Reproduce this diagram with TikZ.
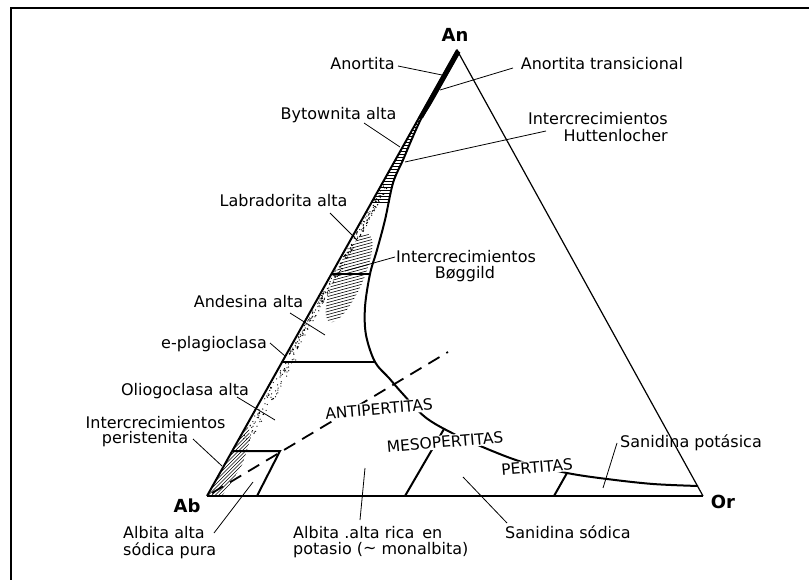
\documentclass[tikz,border=0pt]{standalone}
\usepackage{fontspec}
\setmainfont{DejaVu Sans}
\begin{document}
\begin{tikzpicture}[x=1pt,y=-1pt,
  lab/.style={font=\fontsize{16}{17}\selectfont, inner sep=0pt},
  vtx/.style={font=\fontsize{18}{20}\selectfont\bfseries, inner sep=0pt},
  caps/.style={font=\fontsize{15.5}{17}\selectfont, inner sep=1pt, fill=white, rotate=5},
  leader/.style={line width=0.8pt},
  heavy/.style={line width=2pt},
  hatch/.style={line width=0.6pt}]
\useasboundingbox (0,0) rectangle (809,580);
% frame
\draw[line width=2pt] (11,580) -- (11,8) -- (809,8);
% vertices
\coordinate (An) at (457,50);
\coordinate (Ab) at (207,496);
\coordinate (Or) at (703,496);
% stipple along plagioclase join
\pgfmathsetseed{7}
\foreach \i in {1,...,330}{
  \pgfmathsetmacro\yy{186+256*rnd}
  \pgfmathsetmacro\ww{\yy>355 ? 11 : 6}
  \pgfmathsetmacro\xx{457-(\yy-50)*0.5605+2+\ww*rnd}
  \fill (\xx,\yy) circle (0.65pt);
}
% bytownite ladder hatch
\begin{scope}
\clip (419.5,117) -- (370,205) -- (389,205) -- (393,183) -- (403,160) -- (411,141) -- (421,119) -- cycle;
\foreach \y in {118,121,...,206} \draw[line width=0.7pt] (360,\y) -- (430,\y);
\end{scope}
% Boggild hatch
\begin{scope}
\clip (361.7,220) -- (300.1,330) -- (366,330) -- (365,307) -- (370,274) -- (377,250) -- (385,220) -- cycle;
\clip[rotate around={66:(349,278)}] (349,278) ellipse [x radius=48pt, y radius=14pt];
\foreach \c in {220,223,...,370} \draw[hatch] (300,\c) -- (400,\c-27);
\end{scope}
% peristerite hatch
\begin{scope}
\clip (246.8,425) -- (207,496) -- (222,496) -- (233,480) -- (243,463) -- (250,440) -- (249,428) -- cycle;
\foreach \c in {630,633.5,...,750} \draw[hatch] (180,\c-180) -- (280,\c-280);
\end{scope}
% triangle
\draw[line width=1.2pt] (An) -- (Or);
\draw[line width=1.3pt] (Ab) -- (Or);
\draw[line width=2pt] (Ab) -- (An);
% anorthite black wedge
\fill (457,49) -- (460,53) -- (423,118) -- (418,118) -- cycle;
% solvus curve
\draw[heavy] plot[smooth, tension=0.55] coordinates {(459.5,52) (432,101) (421,119) (411,141) (403,160) (393,183) (385,220) (377,250) (370,274) (365,307) (366,335) (375,362) (389,378) (402,393) (425,417) (452,433) (485,448) (522,462) (567,473) (607,479) (653,484) (698,486)};
% tie lines
\draw[heavy] (331.5,274) -- (370,274);
\draw[heavy] (282,362) -- (375.5,362);
\draw[heavy] (232.2,451) -- (280,451) -- (257,496);
\draw[heavy] (444,429) -- (405,496);
\draw[heavy] (567,473) -- (554,496);
% dashed line
\coordinate (d1) at (212,493);
\coordinate (d2) at (448,352);
\draw[line width=1.8pt, dash pattern=on 13pt off 8pt] (d1) -- (d2);
% field labels
\node[caps] (anti) at (379,409) {ANTIPERTITAS};
\node[caps] (meso) at (445,442) {MESOPERTITAS};
\node[caps] (pert) at (537,467) {PERTITAS};
% vertex labels
\node[vtx, anchor=base] (lAn) at (455,42) {An};
\node[vtx, anchor=base] (lAb) at (187,512) {Ab};
\node[vtx, anchor=base] (lOr) at (723,508) {Or};
% text labels
\node[lab, anchor=base] (anort) at (362.5,70) {Anortita};
\node[lab, anchor=base] (anortt) at (602,70) {Anortita transicional};
\node[lab, anchor=base] (bytow) at (338.5,120) {Bytownita alta};
\node[lab, anchor=base east] (hut1) at (668,125) {Intercrecimientos};
\node[lab, anchor=base east] (hut2) at (668,142) {Huttenlocher};
\node[lab, anchor=base] (labr) at (283.5,207) {Labradorita alta};
\node[lab, anchor=base] (bog1) at (466,262) {Intercrecimientos};
\node[lab, anchor=base] (bog2) at (465,279) {Bøggild};
\node[lab, anchor=base] (andes) at (248.5,307) {Andesina alta};
\node[lab, anchor=base east] (eplag) at (267,348) {e-plagioclasa};
\node[lab, anchor=base] (olig) at (185,395) {Oliogoclasa alta};
\node[lab, anchor=base] (per1) at (155.5,428) {Intercrecimientos};
\node[lab, anchor=base] (per2) at (145,443) {peristenita};
\node[lab, anchor=base west] (asp1) at (123,538) {Albita alta};
\node[lab, anchor=base west] (asp2) at (123,555) {sódica pura};
\node[lab, anchor=base west] (ark1) at (293,538) {Albita .alta rica\, en};
\node[lab, anchor=base west] (ark2) at (293,554) {potasio (\raisebox{0.5pt}{\char"223C} monalbita)};
\node[lab, anchor=base west] (sans) at (505,538) {Sanidina sódica};
\node[lab, anchor=base west] (sanp) at (620,447) {Sanidina potásica};
% leader end points
\coordinate (a1) at (398,66);   \coordinate (b1) at (442,75);
\coordinate (a2) at (513,68);   \coordinate (b2) at (440,90);
\coordinate (a3) at (364,123);  \coordinate (b3) at (400,147);
\coordinate (a4) at (546,131);  \coordinate (b4) at (405,162);
\coordinate (a5) at (330,213);  \coordinate (b5) at (357,240);
\coordinate (a6) at (395,257);  \coordinate (b6) at (345,271);
\coordinate (a7) at (290,313);  \coordinate (b7) at (325,335);
\coordinate (a8) at (270,343);  \coordinate (b8) at (285,356);
\coordinate (a9) at (237,397);  \coordinate (b9) at (275,420);
\coordinate (a10) at (193,439); \coordinate (b10) at (222,466);
\coordinate (a11) at (214,533); \coordinate (b11) at (253,482);
\coordinate (a12) at (360,520); \coordinate (b12) at (365,468);
\coordinate (a13) at (507,523); \coordinate (b13) at (463,477);
\coordinate (a14) at (617,443); \coordinate (b14) at (603,488);
\foreach \n in {1,...,14} \draw[leader] (a\n) -- (b\n);
\end{tikzpicture}
\end{document}
